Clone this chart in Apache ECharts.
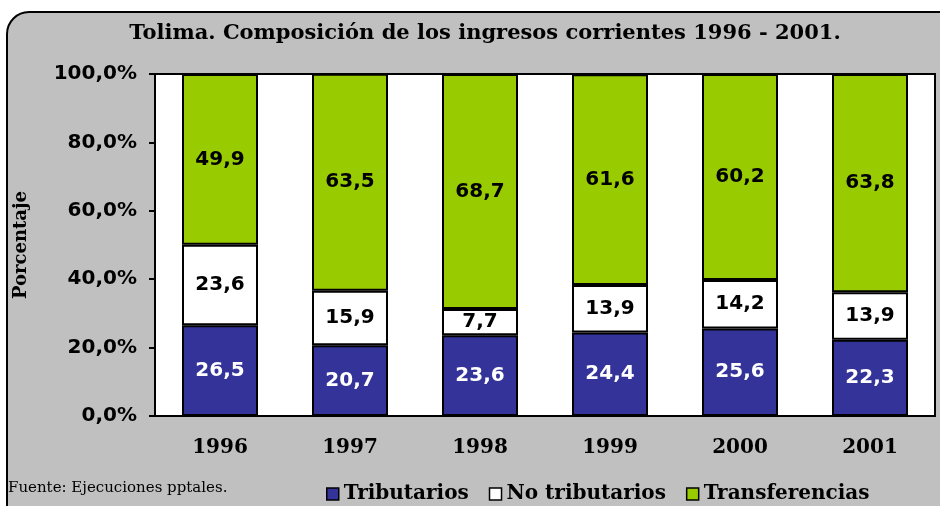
<!DOCTYPE html>
<html>
<head>
<meta charset="utf-8">
<script src="https://cdn.jsdelivr.net/npm/echarts@6/dist/echarts.min.js"></script>
<style>
  html, body { margin: 0; padding: 0; background: #fff; }
  #chart { width: 940px; height: 506px; }
</style>
</head>
<body>
<div id="chart"></div>
<script>
// datos del grafico
var years = ['1996', '1997', '1998', '1999', '2000', '2001'];
var tributarios = [26.5, 20.7, 23.6, 24.4, 25.6, 22.3];
var noTributarios = [23.6, 15.9, 7.7, 13.9, 14.2, 13.9];
var transferencias = [49.9, 63.5, 68.7, 61.6, 60.2, 63.8];
var yTicks = [0, 20, 40, 60, 80, 100];

var serif = '"DejaVu Serif", "Liberation Serif", serif';
var sans = '"DejaVu Sans", Verdana, sans-serif';

function coma(v) {
    return v.toFixed(1).replace('.', ',');
}

function barLabel(color) {
    return {
        show: true,
        position: 'inside',
        color: color,
        fontFamily: sans,
        fontWeight: 'bold',
        fontSize: 20,
        formatter: function (p) { return coma(p.value); }
    };
}

var chart = echarts.init(document.getElementById('chart'));
chart.setOption({
    animation: false,
    backgroundColor: '#fff',
    graphic: [{
        type: 'rect',
        z: -10,
        shape: { x: 7, y: 12, width: 960, height: 530, r: 22 },
        style: { fill: '#c0c0c0', stroke: '#000', lineWidth: 2 }
    }, {
        type: 'text',
        left: 8,
        top: 481,
        style: {
            text: 'Fuente: Ejecuciones pptales.',
            font: '15px "DejaVu Serif", serif',
            fill: '#000'
        }
    }],
    title: {
        text: 'Tolima. Composición de los ingresos corrientes 1996 - 2001.',
        left: 480,
        top: 18,
        textAlign: 'center',
        textStyle: {
            fontFamily: serif,
            fontWeight: 'bold',
            fontSize: 21,
            color: '#000'
        }
    },
    legend: {
        left: 321,
        top: 479,
        itemWidth: 12,
        itemHeight: 12,
        itemGap: 20,
        icon: 'rect',
        itemStyle: { borderColor: '#000', borderWidth: 1.5 },
        textStyle: {
            fontFamily: serif,
            fontWeight: 'bold',
            fontSize: 20,
            color: '#000',
            padding: [0, 0, 0, 0]
        },
        data: ['Tributarios', 'No tributarios', 'Transferencias']
    },
    grid: {
        left: 155,
        right: 5,
        top: 74,
        bottom: 90,
        show: true,
        backgroundColor: '#fff',
        borderColor: '#000',
        borderWidth: 2
    },
    xAxis: {
        type: 'category',
        data: years,
        axisLine: { lineStyle: { color: '#000', width: 2 } },
        axisTick: { length: 6, lineStyle: { color: '#000', width: 2 } },
        axisLabel: {
            margin: 22,
            fontFamily: serif,
            fontWeight: 'bold',
            fontSize: 20,
            color: '#000'
        }
    },
    yAxis: {
        type: 'value',
        min: yTicks[0],
        max: yTicks[yTicks.length - 1],
        interval: 20,
        name: 'Porcentaje',
        nameLocation: 'middle',
        nameGap: 125,
        nameTextStyle: {
            fontFamily: serif,
            fontWeight: 'bold',
            fontSize: 18,
            color: '#000'
        },
        splitLine: { show: false },
        axisLine: { show: true, lineStyle: { color: '#000', width: 2 } },
        axisTick: { show: true, length: 6, lineStyle: { color: '#000', width: 2 } },
        axisLabel: {
            margin: 18,
            fontFamily: sans,
            fontWeight: 'bold',
            fontSize: 20,
            color: '#000',
            formatter: function (v) { return coma(v) + '%'; }
        }
    },
    series: [{
        name: 'Tributarios',
        type: 'bar',
        stack: 'total',
        barWidth: 76,
        data: tributarios,
        itemStyle: { color: '#333399', borderColor: '#000', borderWidth: 2 },
        label: barLabel('#fff')
    }, {
        name: 'No tributarios',
        type: 'bar',
        stack: 'total',
        data: noTributarios,
        itemStyle: { color: '#ffffff', borderColor: '#000', borderWidth: 2 },
        label: barLabel('#000')
    }, {
        name: 'Transferencias',
        type: 'bar',
        stack: 'total',
        data: transferencias,
        itemStyle: { color: '#99cc00', borderColor: '#000', borderWidth: 2 },
        label: barLabel('#000')
    }]
});
</script>
</body>
</html>
